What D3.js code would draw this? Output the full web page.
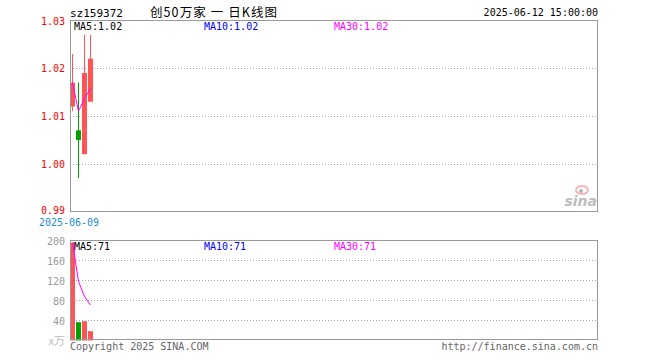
<!DOCTYPE html>
<html><head><meta charset="utf-8">
<script src="https://cdn.jsdelivr.net/npm/d3@7"></script>
<style>html,body{margin:0;padding:0;background:#fff;}svg{display:block;}</style>
</head><body><svg id="c" width="660" height="360"></svg>
<script>
const symbol = "sz159372";
const title = "创50万家 一 日K线图";
const timestamp = "2025-06-12 15:00:00";
const dates = ["2025-06-09", "2025-06-10", "2025-06-11", "2025-06-12"];
const openV  = [1.012, 1.007, 1.002, 1.013];
const closeV = [1.017, 1.005, 1.019, 1.022];
const highV  = [1.023, 1.017, 1.027, 1.027];
const lowV   = [1.011, 0.997, 1.002, 1.013];
const priceMA = [1.017, 1.011, 1.0137, 1.0158];
const volumeV = [196, 36.6, 38.6, 18.6];
const volumeMA = [196, 118, 88, 71];
const priceTicks = [0.99, 1.00, 1.01, 1.02, 1.03];
const volumeTicks = [40, 80, 120, 160, 200];
const priceMALabels = ["MA5:1.02", "MA10:1.02", "MA30:1.02"];
const volumeMALabels = ["MA5:71", "MA10:71", "MA30:71"];
const slots = 88;

const svg = d3.select("#c");
const mono = "'DejaVu Sans Mono', monospace";
const red = "#ff5555", green = "#00a000";

const x = d3.scaleBand().domain(d3.range(slots)).range([70, 598]).paddingInner(0).paddingOuter(0);
const yP = d3.scaleLinear().domain([0.99, 1.03]).range([211.5, 20.5]);
const yV = d3.scaleLinear().domain([0, 200]).range([340.5, 240.5]);
const bw = 5;

// header
svg.append("text").attr("x", 70).attr("y", 17).attr("font-family", mono).attr("font-size", 11).attr("fill", "#000").text(symbol);
svg.append("text").attr("x", 150).attr("y", 17).attr("font-family", "'Noto Sans CJK SC', sans-serif").attr("font-size", 12.5).attr("fill", "#000").attr("textLength", 127).text(title);
svg.append("text").attr("x", 598).attr("y", 16).attr("text-anchor", "end").attr("font-family", mono).attr("font-size", 10).attr("fill", "#000").text(timestamp);

// price grid
svg.append("g").selectAll("line").data(priceTicks.slice(1, -1)).join("line")
  .attr("x1", 70).attr("x2", 598).attr("y1", d => Math.round(yP(d)) + 0.5).attr("y2", d => Math.round(yP(d)) + 0.5)
  .attr("stroke", "#aaa").attr("stroke-dasharray", "1,2");
// price labels
svg.append("g").selectAll("text").data(priceTicks).join("text")
  .attr("x", 65).attr("y", d => d === 0.99 ? yP(d) + 2.5 : yP(d) + 4).attr("text-anchor", "end")
  .attr("font-family", mono).attr("font-size", 10).attr("fill", "#ff0000").text(d => d.toFixed(2));
svg.append("text").attr("x", 69).attr("y", 225.5).attr("text-anchor", "middle").attr("font-family", mono).attr("font-size", 10).attr("fill", "#1e88d8").text(dates[0]);

// sina logo
const logo = svg.append("g").attr("opacity", 0.55);
logo.append("ellipse").attr("cx", 582).attr("cy", 190).attr("rx", 6).attr("ry", 4).attr("fill", "none").attr("stroke", "#f08080").attr("stroke-width", 2);
logo.append("circle").attr("cx", 581).attr("cy", 191).attr("r", 2).attr("fill", "#777");
logo.append("text").attr("x", 597).attr("y", 206).attr("text-anchor", "end").attr("font-family", "'DejaVu Sans', sans-serif").attr("font-style", "italic").attr("font-weight", "bold").attr("font-size", 14).attr("fill", "#888").text("sina");

// candles
const idx = d3.range(dates.length);
const cg = svg.append("g");
cg.selectAll("line.w").data(idx).join("line")
  .attr("x1", i => x(i) + 2.5).attr("x2", i => x(i) + 2.5)
  .attr("y1", i => yP(highV[i])).attr("y2", i => yP(lowV[i]))
  .attr("stroke", i => closeV[i] >= openV[i] ? red : green).attr("stroke-width", 1);
cg.selectAll("rect").data(idx).join("rect")
  .attr("x", i => x(i)).attr("width", bw)
  .attr("y", i => yP(Math.max(openV[i], closeV[i])))
  .attr("height", i => Math.max(1, yP(Math.min(openV[i], closeV[i])) - yP(Math.max(openV[i], closeV[i]))))
  .attr("fill", i => closeV[i] >= openV[i] ? red : green);
svg.append("path").datum(idx)
  .attr("d", d3.line().x(i => x(i) + 2.5).y(i => yP(priceMA[i])))
  .attr("fill", "none").attr("stroke", "#ff00ff").attr("stroke-width", 1);

// price border
svg.append("rect").attr("x", 70.5).attr("y", 20.5).attr("width", 527).attr("height", 191).attr("fill", "none").attr("stroke", "#999");

// price MA labels
const maCols = ["#000", "#0000ff", "#ff00ff"];
const maX = [74, 204, 334];
svg.append("g").selectAll("text").data(priceMALabels).join("text")
  .attr("x", (d, i) => maX[i]).attr("y", 30).attr("font-family", mono).attr("font-size", 10)
  .attr("fill", (d, i) => maCols[i]).text(d => d);

// volume grid
svg.append("g").selectAll("line").data(volumeTicks.slice(0, -1)).join("line")
  .attr("x1", 70).attr("x2", 598).attr("y1", d => yV(d)).attr("y2", d => yV(d))
  .attr("stroke", "#aaa").attr("stroke-dasharray", "1,2");
svg.append("g").selectAll("text").data(volumeTicks).join("text")
  .attr("x", 65).attr("y", d => yV(d) + 4).attr("text-anchor", "end")
  .attr("font-family", mono).attr("font-size", 10).attr("fill", "#999").text(d => d);
svg.append("text").attr("x", 65).attr("y", 345).attr("text-anchor", "end")
  .attr("font-family", "'Noto Sans CJK SC', sans-serif").attr("font-size", 11).attr("fill", "#bbb").text("x万");

// volume bars
svg.append("g").selectAll("rect").data(idx).join("rect")
  .attr("x", i => x(i)).attr("width", bw)
  .attr("y", i => yV(volumeV[i])).attr("height", i => yV(0) - yV(volumeV[i]))
  .attr("fill", i => closeV[i] >= openV[i] ? red : green);
svg.append("path").datum(idx)
  .attr("d", d3.line().x(i => x(i) + 2.5).y(i => yV(volumeMA[i])))
  .attr("fill", "none").attr("stroke", "#ff00ff").attr("stroke-width", 1);

svg.append("rect").attr("x", 70.5).attr("y", 240.5).attr("width", 527).attr("height", 99).attr("fill", "none").attr("stroke", "#999");

svg.append("g").selectAll("text").data(volumeMALabels).join("text")
  .attr("x", (d, i) => maX[i]).attr("y", 250).attr("font-family", mono).attr("font-size", 10)
  .attr("fill", (d, i) => maCols[i]).text(d => d);

// footer
svg.append("text").attr("x", 70).attr("y", 350).attr("font-family", mono).attr("font-size", 10).attr("fill", "#666").text("Copyright 2025 SINA.COM");
svg.append("text").attr("x", 598).attr("y", 350).attr("text-anchor", "end").attr("font-family", mono).attr("font-size", 10).attr("fill", "#666").text("http://finance.sina.com.cn");
</script>
</body></html>
